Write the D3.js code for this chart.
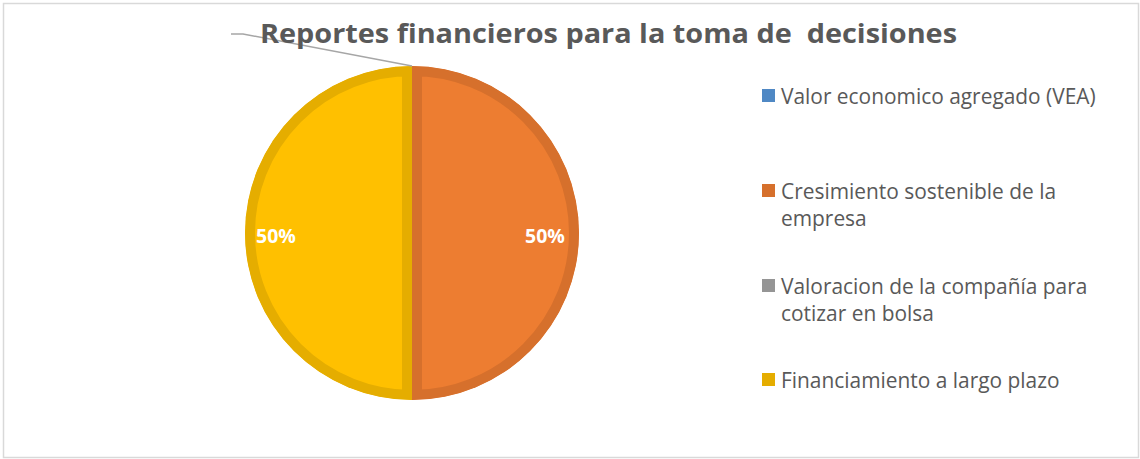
<!DOCTYPE html>
<html><head><meta charset="utf-8">
<script src="https://cdn.jsdelivr.net/npm/d3@7"></script>
<style>body{margin:0;background:#fff}svg{display:block}</style>
</head><body>
<svg id="c" width="1140" height="459"></svg>
<script>
const title = "Reportes financieros para la toma de  decisiones";
const categories = ["Valor economico agregado (VEA)", "Cresimiento sostenible de la empresa", "Valoracion de la compañía para cotizar en bolsa", "Financiamiento a largo plazo"];
const legendLines = [["Valor economico agregado (VEA)"], ["Cresimiento sostenible de la", "empresa"], ["Valoracion de la compañía para", "cotizar en bolsa"], ["Financiamiento a largo plazo"]];
const values = [0, 1, 0, 1];
const fillColors = ["#5B9BD5", "#ED7D31", "#A5A5A5", "#FFC000"];
const edgeColors = ["#4F88C4", "#D6702C", "#959595", "#E5AD00"];

const svg = d3.select("#c");
svg.append("rect").attr("x", 3.5).attr("y", 3.5).attr("width", 1135).attr("height", 454)
  .attr("fill", "#fff").attr("stroke", "#D9D9D9").attr("stroke-width", 1.5);

const cx = 412, cy = 233, R = 167, band = 10;
const pie = d3.pie().sort(null).value(d => d)(values);
const arc = d3.arc().innerRadius(0).outerRadius(R);
const total = d3.sum(values);

const g = svg.append("g").attr("transform", `translate(${cx},${cy})`);
const defs = svg.append("defs");
pie.forEach((p, i) => {
  if (p.endAngle - p.startAngle <= 0) return;
  defs.append("clipPath").attr("id", "clip" + i).append("path").attr("d", arc(p));
  g.append("path").attr("d", arc(p)).attr("fill", fillColors[i])
    .attr("stroke", edgeColors[i]).attr("stroke-width", band * 2)
    .attr("clip-path", `url(#clip${i})`);
});

// leader line for zero-valued slice label
const zeroSlice = pie[0];
const p0 = d3.pointRadial(zeroSlice.startAngle, R);
const labelPt = [p0[0] - 169, p0[1] - 32];
g.append("polyline")
  .attr("points", [p0, labelPt, [labelPt[0] - 12, labelPt[1]]].map(p => p.join(",")).join(" "))
  .attr("fill", "none").attr("stroke", "#A6A6A6").attr("stroke-width", 1.5);

// percentage labels
const labelArc = d3.arc().innerRadius(133).outerRadius(133);
pie.forEach((p, i) => {
  if (p.value <= 0) return;
  const c = labelArc.centroid(p);
  g.append("text").attr("x", c[0] + (c[0] < 0 ? -3 : 0)).attr("y", c[1] + 10)
    .attr("text-anchor", "middle").attr("fill", "#fff")
    .attr("font-family", "'Open Sans', sans-serif").attr("font-weight", "bold").attr("font-size", 19.5)
    .text(d3.format(".0%")(p.value / total));
});

// title
svg.append("text").attr("x", 260).attr("y", 43)
  .style("white-space", "pre").attr("xml:space", "preserve")
  .attr("font-family", "'Open Sans', sans-serif").attr("font-weight", "bold").attr("font-size", 27.5)
  .attr("fill", "#595959").attr("textLength", 697).attr("lengthAdjust", "spacingAndGlyphs")
  .text(title);

// legend
const legendTop = [96, 191, 286, 380];
const lg = svg.append("g");
legendLines.forEach((lines, i) => {
  lg.append("rect").attr("x", 762).attr("y", legendTop[i] - 7).attr("width", 13).attr("height", 13)
    .attr("fill", edgeColors[i]);
  lines.forEach((ln, j) => {
    lg.append("text").attr("x", 781).attr("y", legendTop[i] + 7.5 + j * 27.5)
      .attr("font-family", "'Open Sans', sans-serif").attr("font-size", 20.9).attr("fill", "#595959")
      .text(ln);
  });
});
</script>
</body></html>
